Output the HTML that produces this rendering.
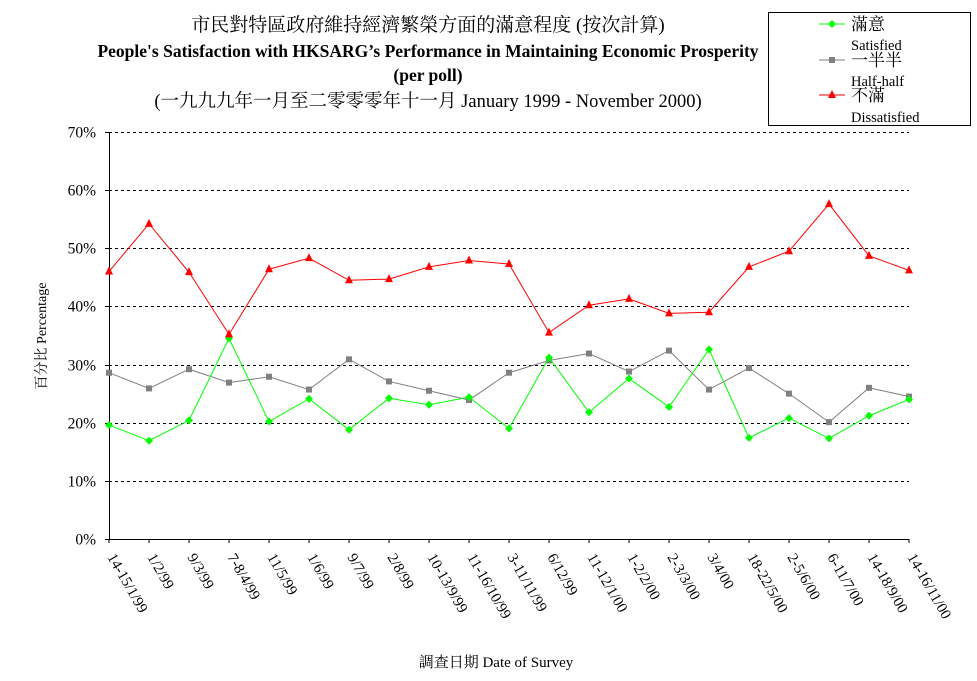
<!DOCTYPE html>
<html><head><meta charset="utf-8"><style>
body{margin:0;background:#fff;width:977px;height:681px;overflow:hidden}
svg{display:block}
text{font-family:"Liberation Serif","Noto Serif CJK SC","Noto Sans CJK TC",serif;fill:#000}
</style></head><body>
<svg id="chart" width="977" height="681" viewBox="0 0 977 681">
<g text-anchor="middle">
<text x="428" y="31" font-size="19">市民對特區政府維持經濟繁榮方面的滿意程度 (按次計算)</text>
<text x="428" y="57" font-size="17.5" font-weight="bold">People's Satisfaction with HKSARG’s Performance in Maintaining Economic Prosperity</text>
<text x="428" y="81" font-size="17.5" font-weight="bold">(per poll)</text>
<text x="428" y="107" font-size="18.5">(一九九九年一月至二零零零年十一月 January 1999 - November 2000)</text>
</g>
<g id="grid"></g>
<g id="yticks"></g>
<g id="xticks"></g>
<g id="series"></g>
<text transform="translate(46,336) rotate(-90)" text-anchor="middle" font-size="14">百分比 Percentage</text>
<text x="496" y="667" text-anchor="middle" font-size="15">調查日期 Date of Survey</text>
<g>
<rect x="768.5" y="12.5" width="202" height="113" fill="#fff" stroke="#000"/>
<g>
<line x1="819" y1="24" x2="845" y2="24" stroke="#00ff00"/><polygon points="832,20 836,24 832,28 828,24" fill="#00ff00"/>
<text x="851" y="30" font-size="17">滿意</text><text x="851" y="50" font-size="14.5">Satisfied</text></g>
<g>
<line x1="819" y1="60" x2="845" y2="60" stroke="#808080"/><rect x="829" y="57" width="6" height="6" fill="#808080"/>
<text x="851" y="66" font-size="17">一半半</text><text x="851" y="86" font-size="14.5">Half-half</text></g>
<g>
<line x1="819" y1="95" x2="845" y2="95" stroke="#ff0000"/><polygon points="832,90 836,98 828,98" fill="#ff0000"/>
<text x="851" y="101" font-size="17">不滿</text><text x="851" y="122" font-size="14.5">Dissatisfied</text></g>
</g>
</svg>
<script>
const categories=["14-15/1/99","1/2/99","9/3/99","7-8/4/99","11/5/99","1/6/99","9/7/99","2/8/99","10-13/9/99","11-16/10/99","3-11/11/99","6/12/99","11-12/1/00","1-2/2/00","2-3/3/00","3/4/00","18-22/5/00","2-5/6/00","6-11/7/00","14-18/9/00","14-16/11/00"];
const satisfied=[19.6,16.9,20.4,34.5,20.2,24.1,18.8,24.2,23.1,24.4,19.0,31.2,21.8,27.6,22.7,32.6,17.4,20.8,17.3,21.2,24.0];
const halfHalf=[28.6,25.9,29.2,26.9,27.9,25.7,30.9,27.1,25.5,23.9,28.6,30.7,31.9,28.8,32.4,25.7,29.4,25.0,20.1,26.0,24.5];
const dissatisfied=[46.0,54.2,45.9,35.2,46.4,48.3,44.5,44.7,46.8,47.9,47.3,35.5,40.2,41.3,38.8,39.0,46.8,49.5,57.6,48.7,46.2];
const yTicks=[0,10,20,30,40,50,60,70];
const NS="http://www.w3.org/2000/svg";
const X0=109,X1=909,Y0=539,Y1=132,YMAX=70;
const xs=i=>X0+i*(X1-X0)/(categories.length-1);
const ys=v=>Y0-v*(Y0-Y1)/YMAX;
function mk(tag,attrs,parent){const e=document.createElementNS(NS,tag);for(const k in attrs)e.setAttribute(k,attrs[k]);parent.appendChild(e);return e;}
const grid=document.getElementById('grid'),yt=document.getElementById('yticks'),xt=document.getElementById('xticks'),ser=document.getElementById('series');
yTicks.forEach(t=>{
 const y=Math.round(ys(t))+0.5;
 if(t>0){const l=mk('line',{x1:X0,x2:X1,y1:y,y2:y,stroke:'#000','stroke-dasharray':'3,3'},grid);
 
 }
 const tx=mk('text',{x:96,y:y+5,'text-anchor':'end','font-size':'15.5'},yt);
 tx.textContent=t+'%';
 
 
 mk('line',{x1:X0-4,x2:X0,y1:y,y2:y,stroke:'#000'},yt);
});
const ax=mk('line',{x1:X0+0.5,x2:X0+0.5,y1:Y1,y2:Y0,stroke:'#000'},grid);


const bx=mk('line',{x1:X0,x2:X1,y1:Y0+0.5,y2:Y0+0.5,stroke:'#000'},grid);


categories.forEach((c,i)=>{
 const x=xs(i);
 mk('line',{x1:x,x2:x,y1:Y0,y2:Y0+4,stroke:'#000'},xt);
 const t=mk('text',{transform:`translate(${x-2},${Y0+18}) rotate(60)`,'font-size':'15'},xt);
 t.textContent=c;
 
 
});
function drawSeries(vals,color,shape,name){
 const g=mk('g',{},ser);
 
 
 mk('polyline',{points:vals.map((v,i)=>xs(i)+','+ys(v)).join(' '),fill:'none',stroke:color,'stroke-width':1},g);
 vals.forEach((v,i)=>{
  const x=xs(i),y=ys(v);let m;
  if(shape==='diamond')m=mk('polygon',{points:`${x},${y-4} ${x+4},${y} ${x},${y+4} ${x-4},${y}`,fill:color},g);
  else if(shape==='square')m=mk('rect',{x:x-3,y:y-3,width:6,height:6,fill:color},g);
  else m=mk('polygon',{points:`${x},${y-5} ${x+4},${y+3} ${x-4},${y+3}`,fill:color},g);
  
  
 });
}
drawSeries(halfHalf,'#808080','square','half-half');
drawSeries(satisfied,'#00ff00','diamond','satisfied');
drawSeries(dissatisfied,'#ff0000','triangle','dissatisfied');
</script>
</body></html>
